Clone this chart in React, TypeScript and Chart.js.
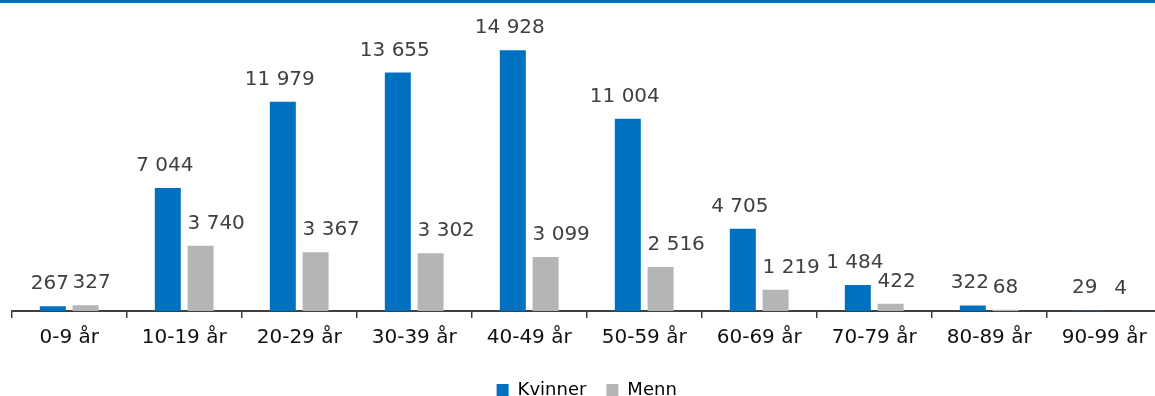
import React, { useEffect, useRef } from "react";
import { Chart, registerables } from "chart.js";

Chart.register(...registerables);

const categories = [
  "0-9 år",
  "10-19 år",
  "20-29 år",
  "30-39 år",
  "40-49 år",
  "50-59 år",
  "60-69 år",
  "70-79 år",
  "80-89 år",
  "90-99 år",
];
const kvinner = [267, 7044, 11979, 13655, 14928, 11004, 4705, 1484, 322, 29];
const menn = [327, 3740, 3367, 3302, 3099, 2516, 1219, 422, 68, 4];
const seriesNames = ["Kvinner", "Menn"];

const FONT = "'DejaVu Sans', sans-serif";
const BLUE = "#0070C0";
const GREY = "#B4B5B7";

// thousands separated by a space, e.g. 14 928
const fmt = (v: number) => String(v).replace(/\B(?=(\d{3})+(?!\d))/g, " ");

// value labels above each bar
const valueLabels = {
  id: "valueLabels",
  afterDatasetsDraw(chart: any) {
    const ctx = chart.ctx;
    ctx.save();
    ctx.font = `20px ${FONT}`;
    ctx.fillStyle = "#404040";
    ctx.textAlign = "center";
    ctx.textBaseline = "alphabetic";
    chart.data.datasets.forEach((ds: any, di: number) => {
      const meta = chart.getDatasetMeta(di);
      meta.data.forEach((bar: any, i: number) => {
        const text = fmt(ds.data[i]);
        const w = ctx.measureText(text).width;
        const { x, y, width } = bar.getProps(["x", "y", "width"], true);
        const lx = di === 0 ? x - 3 : x + Math.max(0, (w - width) / 2);
        ctx.fillText(text, lx, y - 17);
      });
    });
    ctx.restore();
  },
};

export default function App() {
  const ref = useRef<HTMLCanvasElement>(null);

  useEffect(() => {
    if (!ref.current) return;
    Chart.defaults.font.family = FONT;
    const chart = new Chart(ref.current, {
      type: "bar",
      data: {
        labels: categories,
        datasets: [
          {
            label: seriesNames[0],
            data: kvinner,
            backgroundColor: BLUE,
            categoryPercentage: 0.57,
            barPercentage: 0.793,
          },
          {
            label: seriesNames[1],
            data: menn,
            backgroundColor: GREY,
            categoryPercentage: 0.57,
            barPercentage: 0.793,
          },
        ],
      },
      options: {
        responsive: false,
        animation: false,
        devicePixelRatio: 1,
        layout: { padding: { left: 11.7, right: 13.3, top: 31.6, bottom: 0 } },
        plugins: {
          tooltip: { enabled: false },
          legend: {
            position: "bottom",
            labels: {
              boxWidth: 12,
              boxHeight: 12,
              padding: 20,
              color: "#000",
              font: { size: 18, family: FONT },
            },
          },
        },
        scales: {
          y: { display: false, min: 0, max: 16000 },
          x: {
            grid: {
              offset: true,
              drawOnChartArea: false,
              drawTicks: true,
              tickLength: 7,
              color: "#404040",
              lineWidth: 1.5,
            },
            border: { display: true, color: "#404040", width: 2 },
            ticks: {
              color: "#111",
              padding: 8,
              font: { size: 20, family: FONT },
              maxRotation: 0,
              autoSkip: false,
            },
            afterFit(scale: any) {
              scale.height += 3;
            },
          },
        },
      },
      plugins: [valueLabels],
    });
    return () => chart.destroy();
  }, []);

  return (
    <div
      style={{
        position: "fixed",
        left: 0,
        top: 0,
        width: 1155,
        height: 396,
        overflow: "hidden",
        background: "#fff",
      }}
    >
      <canvas
        ref={ref}
        width={1175}
        height={409}
        style={{ display: "block", position: "absolute", left: 0, top: 0 }}
      />
      <div
        style={{
          position: "absolute",
          left: 0,
          top: 0,
          width: "100%",
          height: 3,
          background: BLUE,
        }}
      />
    </div>
  );
}
